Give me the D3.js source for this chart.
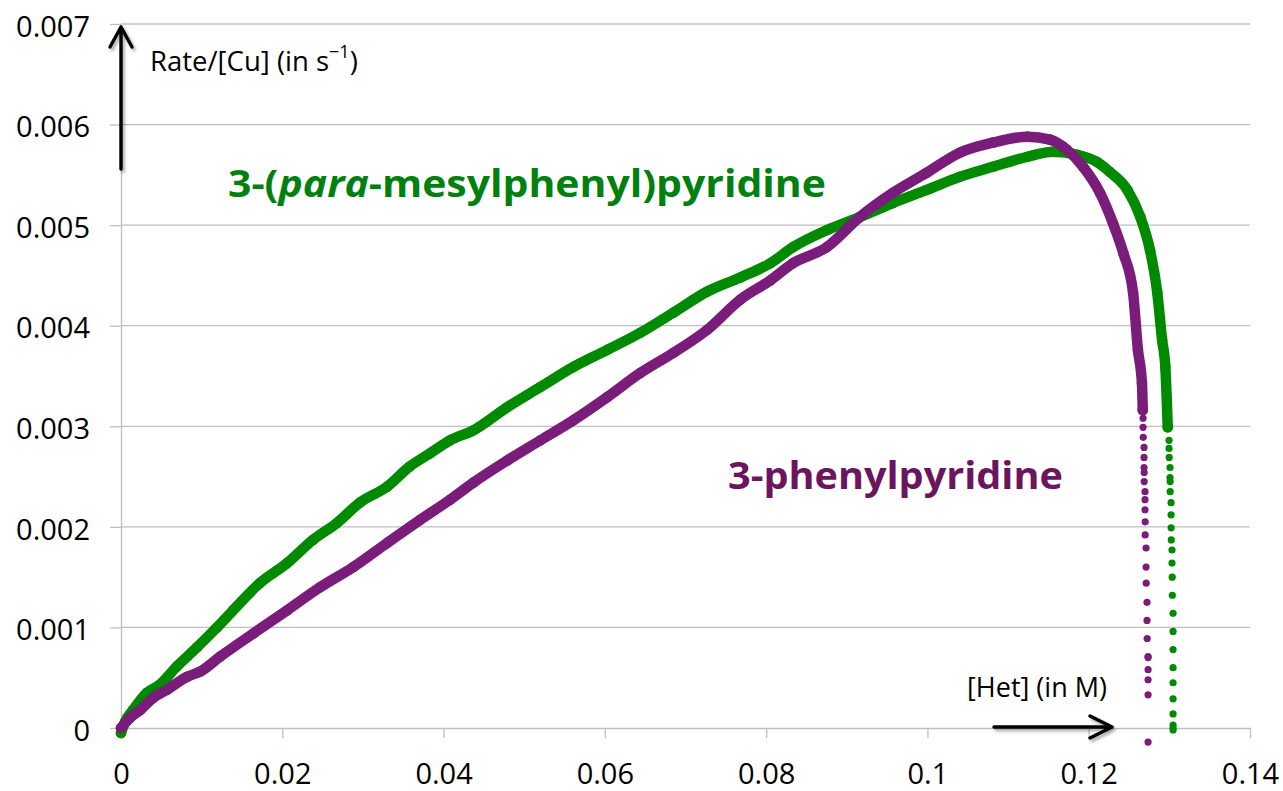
<!DOCTYPE html>
<html>
<head>
<meta charset="utf-8">
<script src="https://cdn.jsdelivr.net/npm/d3@7/dist/d3.min.js"></script>
<style>
  html, body { margin: 0; padding: 0; background: #ffffff; }
  svg { display: block; }
  text { font-family: "Open Sans", "Liberation Sans", sans-serif; }
</style>
</head>
<body>
<svg id="chart" width="1283" height="791"></svg>
<script>
// [Het] (M) vs Rate/[Cu] (s^-1) for two heterocycles

const xTicks = [0, 0.02, 0.04, 0.06, 0.08, 0.1, 0.12, 0.14];
const xTickLabels = ["0", "0.02", "0.04", "0.06", "0.08", "0.1", "0.12", "0.14"];
const yTicks = [0, 0.001, 0.002, 0.003, 0.004, 0.005, 0.006, 0.007];
const yTickLabels = ["0", "0.001", "0.002", "0.003", "0.004", "0.005", "0.006", "0.007"];

// 3-(para-mesylphenyl)pyridine: dense run of points, then the sparse drop-off
const mesylBody = [
  [0, -0.00005], [0.0005, 0.00006], [0.0015, 0.00018], [0.0032, 0.00035],
  [0.0048, 0.00043], [0.0069, 0.00061], [0.0094, 0.00080], [0.0119, 0.00100],
  [0.0139, 0.00117], [0.0172, 0.00144], [0.0206, 0.00164], [0.0238, 0.00187],
  [0.0268, 0.00204], [0.0296, 0.00224], [0.0330, 0.00240], [0.0358, 0.00260],
  [0.0383, 0.00273], [0.0408, 0.00286], [0.0437, 0.00296], [0.0479, 0.00319],
  [0.0520, 0.00339], [0.0561, 0.00359], [0.0603, 0.00376], [0.0644, 0.00393],
  [0.0685, 0.00413], [0.0727, 0.00434], [0.0768, 0.00448], [0.0805, 0.00462],
  [0.0833, 0.00478], [0.0875, 0.00495], [0.0916, 0.00508], [0.0957, 0.00522],
  [0.0999, 0.00535], [0.1040, 0.00548], [0.1081, 0.00558], [0.1124, 0.00568],
  [0.1156, 0.00573], [0.1186, 0.00570], [0.1210, 0.00563], [0.1226, 0.00553],
  [0.1248, 0.00535], [0.1264, 0.00508], [0.1276, 0.00475], [0.1285, 0.00433],
  [0.1291, 0.00386], [0.1295, 0.00359], [0.1298, 0.00299]
];
const mesylTail = [
  [0.12996, 0.00286], [0.12996, 0.00278], [0.12998, 0.00269], [0.13008, 0.00259],
  [0.13008, 0.00249], [0.13010, 0.00245], [0.13010, 0.00235], [0.13021, 0.00224],
  [0.13021, 0.00212], [0.13022, 0.00199], [0.13024, 0.00187], [0.13033, 0.00177],
  [0.13033, 0.00164], [0.13035, 0.00150], [0.13037, 0.00132], [0.13046, 0.00114],
  [0.13046, 0.00096], [0.13046, 0.00078], [0.13046, 0.00060], [0.13046, 0.00045],
  [0.13046, 0.00029], [0.13046, 0.00014], [0.13046, 0.00003], [0.13046, 0.00000],
  [0.13046, -0.00002]
];

// 3-phenylpyridine
const phenylBody = [
  [0, 0.00000], [0.0011, 0.00010], [0.0024, 0.00018], [0.0040, 0.00030],
  [0.0057, 0.00038], [0.0082, 0.00051], [0.0098, 0.00056], [0.0123, 0.00071],
  [0.0164, 0.00094], [0.0206, 0.00117], [0.0247, 0.00140], [0.0288, 0.00160],
  [0.0330, 0.00184], [0.0371, 0.00207], [0.0408, 0.00227], [0.0437, 0.00244],
  [0.0479, 0.00266], [0.0520, 0.00286], [0.0561, 0.00306], [0.0603, 0.00329],
  [0.0644, 0.00353], [0.0685, 0.00373], [0.0727, 0.00396], [0.0768, 0.00426],
  [0.0805, 0.00445], [0.0833, 0.00462], [0.0875, 0.00478], [0.0916, 0.00508],
  [0.0957, 0.00532], [0.0999, 0.00552], [0.1040, 0.00572], [0.1081, 0.00582],
  [0.1124, 0.00588], [0.1152, 0.00585], [0.1173, 0.00575], [0.1193, 0.00558],
  [0.1214, 0.00532], [0.1230, 0.00502], [0.1243, 0.00472], [0.1255, 0.00433],
  [0.1261, 0.00376], [0.1266, 0.00343], [0.1267, 0.00316]
];
const phenylTail = [
  [0.12674, 0.00308], [0.12674, 0.00299], [0.12676, 0.00289], [0.12686, 0.00279],
  [0.12686, 0.00269], [0.12686, 0.00259], [0.12688, 0.00254], [0.12688, 0.00245],
  [0.12698, 0.00235], [0.12698, 0.00227], [0.12698, 0.00217], [0.12700, 0.00205],
  [0.12700, 0.00192], [0.12711, 0.00179], [0.12711, 0.00160], [0.12713, 0.00144],
  [0.12723, 0.00125], [0.12723, 0.00107], [0.12725, 0.00089], [0.12736, 0.00071],
  [0.12736, 0.00070], [0.12736, 0.00058], [0.12736, 0.00048], [0.12736, 0.00033],
  [0.12736, -0.00014]
];

const green = "#008a00";
const purple = "#7a1c7a";
const greenLabel = "#00800f";
const purpleLabel = "#6b155f";
const gridColor = "#bfbfbf";

const svg = d3.select("#chart");
const x = d3.scaleLinear().domain([0, 0.14]).range([121, 1250]);
const y = d3.scaleLinear().domain([0, 0.007]).range([728, 24]);

// soft shadow used under the annotation arrows
const defs = svg.append("defs");
const shadow = defs.append("filter").attr("id", "arrowShadow")
  .attr("x", "-20%").attr("y", "-20%").attr("width", "140%").attr("height", "140%");
shadow.append("feDropShadow").attr("dx", 2).attr("dy", 2.5)
  .attr("stdDeviation", 1.6).attr("flood-color", "#000").attr("flood-opacity", 0.35);

// horizontal gridlines
svg.append("g").selectAll("line")
  .data(yTicks.filter(d => d > 0))
  .join("line")
  .attr("x1", x(0)).attr("x2", x(0.14))
  .attr("y1", d => y(d)).attr("y2", d => y(d))
  .attr("stroke", gridColor).attr("stroke-width", 1.3);

// y axis
const yAxis = d3.axisLeft(y)
  .tickValues(yTicks)
  .tickFormat((d, i) => yTickLabels[i])
  .tickSize(11).tickSizeOuter(0).tickPadding(20);
const gy = svg.append("g").attr("transform", `translate(${x(0)},0)`).call(yAxis);
gy.select(".domain").attr("stroke", gridColor).attr("stroke-width", 1.3);
gy.selectAll(".tick line").attr("stroke", gridColor).attr("stroke-width", 1.3);
gy.selectAll(".tick text")
  .attr("fill", "#000").attr("font-size", 29)
  .attr("font-family", "'Open Sans', sans-serif")
  .attr("dy", "0.42em");

// x axis
const xAxis = d3.axisBottom(x)
  .tickValues(xTicks)
  .tickFormat((d, i) => xTickLabels[i])
  .tickSize(10).tickSizeOuter(0).tickPadding(25);
const gx = svg.append("g").attr("transform", `translate(0,${y(0)})`).call(xAxis);
gx.select(".domain").attr("stroke", gridColor).attr("stroke-width", 1.3);
gx.selectAll(".tick line").attr("stroke", gridColor).attr("stroke-width", 1.3);
gx.selectAll(".tick text")
  .attr("fill", "#000").attr("font-size", 29)
  .attr("font-family", "'Open Sans', sans-serif");

// series: thick run of overlapping markers, then individual markers on the drop
const line = d3.line().x(d => x(d[0])).y(d => y(d[1])).curve(d3.curveMonotoneX);

function drawSeries(body, tail, color) {
  const g = svg.append("g");
  g.append("path")
    .datum(body)
    .attr("d", line)
    .attr("fill", "none")
    .attr("stroke", color)
    .attr("stroke-width", 10.5)
    .attr("stroke-linejoin", "round")
    .attr("stroke-linecap", "round");
  g.selectAll("circle.b").data(body).join("circle")
    .attr("class", "b")
    .attr("cx", d => x(d[0])).attr("cy", d => y(d[1]))
    .attr("r", 5.3).attr("fill", color);
  g.selectAll("circle.t").data(tail).join("circle")
    .attr("class", "t")
    .attr("cx", d => x(d[0])).attr("cy", d => y(d[1]))
    .attr("r", 3.6).attr("fill", color);
}
drawSeries(mesylBody, mesylTail, green);
drawSeries(phenylBody, phenylTail, purple);

// axis arrows
const arrows = svg.append("g")
  .attr("stroke", "#000").attr("stroke-width", 3.4).attr("fill", "none")
  .attr("stroke-linecap", "round").attr("stroke-linejoin", "round")
  .attr("filter", "url(#arrowShadow)");
const ax = x(0), ayTop = 27, ayBot = 169;
arrows.append("path").attr("d",
  `M${ax},${ayBot} L${ax},${ayTop} M${ax - 11},${ayTop + 20} L${ax},${ayTop} L${ax + 11},${ayTop + 20}`);
const hx0 = 994, hx1 = 1112, hy = 727;
arrows.append("path").attr("d",
  `M${hx0},${hy} L${hx1},${hy} M${hx1 - 22},${hy - 11} L${hx1},${hy} L${hx1 - 22},${hy + 11}`);

// axis captions
const rateLabel = svg.append("text")
  .attr("x", 150).attr("y", 71)
  .attr("font-size", 27.5).attr("fill", "#000");
rateLabel.append("tspan").text("Rate/[Cu] (in s");
rateLabel.append("tspan").text("\u22121").attr("font-size", 18).attr("dy", -13);
rateLabel.append("tspan").text(")").attr("dy", 13);

svg.append("text")
  .attr("x", 967).attr("y", 697)
  .attr("font-size", 27).attr("fill", "#000")
  .text("[Het] (in M)");

// series names, fitted to their widths
function fitLabel(sel, x0, baseline, width) {
  const w = sel.node().getComputedTextLength();
  sel.attr("transform", `translate(${x0},${baseline}) scale(${width / w},1)`);
}
const mesylName = svg.append("text")
  .attr("font-size", 38).attr("font-weight", 700).attr("fill", greenLabel);
mesylName.append("tspan").text("3-(");
mesylName.append("tspan").text("para").attr("font-style", "italic");
mesylName.append("tspan").text("-mesylphenyl)pyridine");
fitLabel(mesylName, 228, 197, 598);

const phenylName = svg.append("text")
  .attr("font-size", 38).attr("font-weight", 700).attr("fill", purpleLabel)
  .text("3-phenylpyridine");
fitLabel(phenylName, 728, 489, 335);
</script>
</body>
</html>
